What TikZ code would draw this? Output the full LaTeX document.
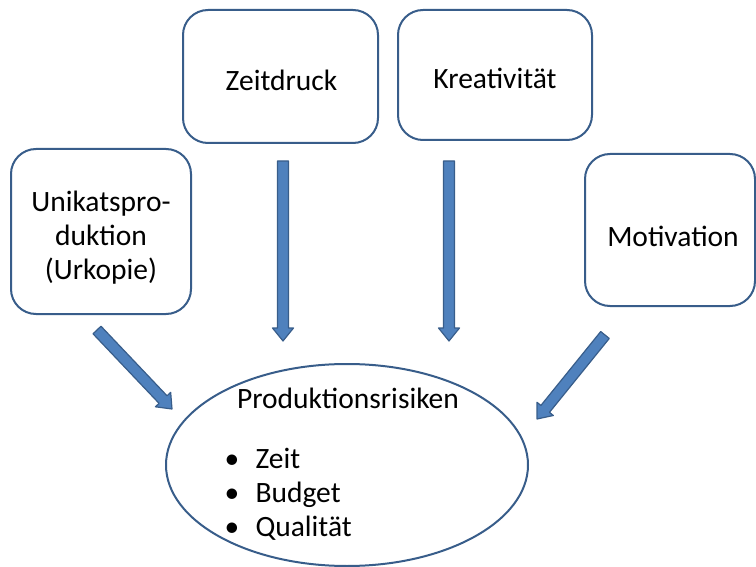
\documentclass[tikz,border=0pt]{standalone}
\usepackage{fontspec}
\setmainfont{Carlito}
\usetikzlibrary{calc,shapes.geometric}
\definecolor{boxline}{RGB}{56,93,138}
\definecolor{arrfill}{RGB}{79,129,189}
% block arrow from #1 to #2 (tip at #2)
\newcommand{\blockarrow}[2]{
 \draw[blockarr] ($(#1)!5.5pt!90:(#2)$) -- ($(#2)!13pt!(#1)!5.5pt!-90:(#1)$)
  -- ($(#2)!13pt!(#1)!10.5pt!-90:(#1)$) -- (#2)
  -- ($(#2)!13pt!(#1)!10.5pt!90:(#1)$) -- ($(#2)!13pt!(#1)!5.5pt!90:(#1)$)
  -- ($(#1)!5.5pt!-90:(#2)$) -- cycle;
}
\begin{document}
\begin{tikzpicture}[x=1pt,y=-1pt,
 every node/.style={font=\fontsize{29.5}{34}\selectfont},
 box/.style={draw=boxline,line width=2pt,fill=white,rounded corners=25pt},
 blockarr/.style={draw=boxline,line width=1.2pt,fill=arrfill,line join=round}]
 \useasboundingbox (0,0) rectangle (756,567);
 \node[box,minimum width=195pt,minimum height=133pt] at (280.5,76.5)(zeit){};
 \node[box,minimum width=194pt,minimum height=130pt] at (495,75)(krea){};
 \node[box,minimum width=180pt,minimum height=165pt] at (101,231.5)(unikat){};
 \node[box,minimum width=170pt,minimum height=152pt] at (670,230)(moti){};
 \node at ($(zeit)+(1,4)$)(zeittxt){Zeitdruck};
 \node at ($(krea)+(0,3)$)(kreatxt){Kreativität};
 \node[align=center] at ($(unikat)+(0,6)$)(unikattxt){Unikatspro-\\duktion\\(Urkopie)};
 \node at ($(moti)+(3,6)$)(motitxt){Motivation};
 \node[ellipse,draw=boxline,line width=2pt,minimum width=362pt,minimum height=202pt] at (347,465)(risk){};
 \node at (348,398)(risktitle){Produktionsrisiken};
 \node[anchor=west,align=left] at (221,494)(risklist){%
  \makebox[31pt][l]{•}Zeit\\\makebox[31pt][l]{•}Budget\\\makebox[31pt][l]{•}Qualität};
 % arrows into the risks
 \coordinate (a1) at (283,161);
 \coordinate (b1) at (283,341);
 \coordinate (a2) at (449,161);
 \coordinate (b2) at (449,341);
 \coordinate (a3) at (97,330);
 \coordinate (b3) at (172,409);
 \coordinate (a4) at (605,335);
 \coordinate (b4) at (537,419);
 \blockarrow{a1}{b1}
 \blockarrow{a2}{b2}
 \blockarrow{a3}{b3}
 \blockarrow{a4}{b4}
\end{tikzpicture}
\end{document}
